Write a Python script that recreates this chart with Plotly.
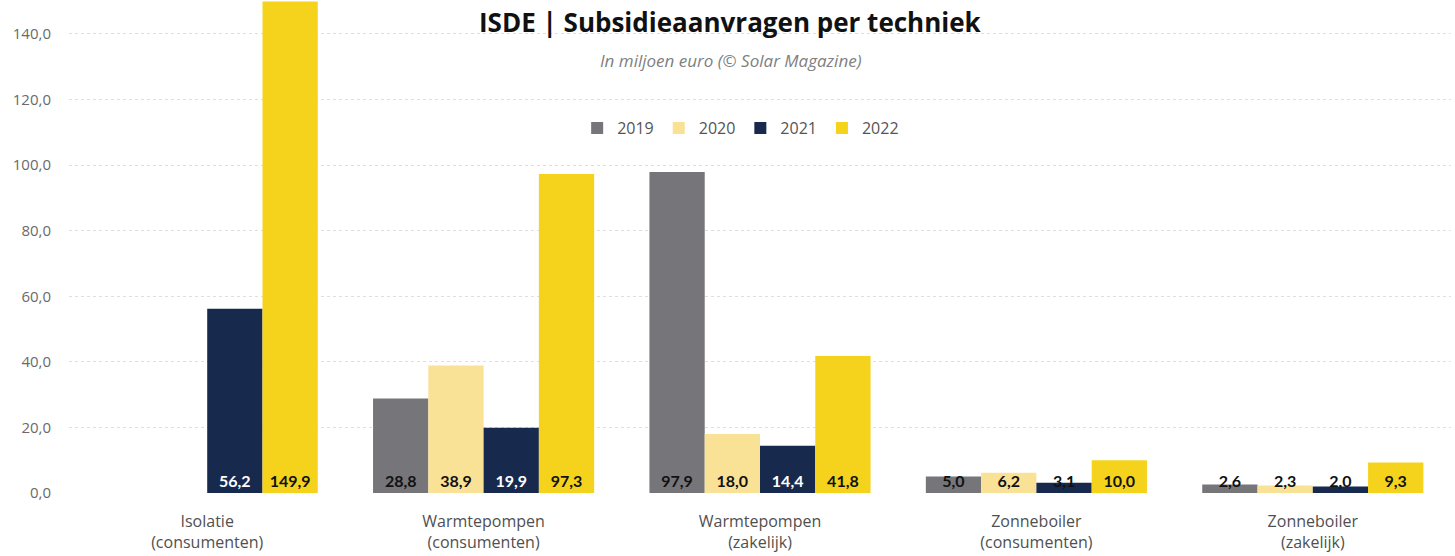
import plotly.graph_objects as go

categories = ["Isolatie<br>(consumenten)", "Warmtepompen<br>(consumenten)",
              "Warmtepompen<br>(zakelijk)", "Zonneboiler<br>(consumenten)",
              "Zonneboiler<br>(zakelijk)"]
years = ["2019", "2020", "2021", "2022"]
v2019 = [None, 28.8, 97.9, 5.0, 2.6]
v2020 = [None, 38.9, 18.0, 6.2, 2.3]
v2021 = [56.2, 19.9, 14.4, 3.1, 2.0]
v2022 = [149.9, 97.3, 41.8, 10.0, 9.3]
series = [v2019, v2020, v2021, v2022]
colors = ["#76757a", "#f9e196", "#172a4e", "#f5d31d"]

def fmt(v):
    return "" if v is None else f"{v:.1f}".replace(".", ",")

fig = go.Figure()
for name, vals, col in zip(years, series, colors):
    if name == "2021":
        tcol = ["#ffffff" if (v is not None and v > 10) else "#111111" for v in vals]
    else:
        tcol = ["#111111"] * len(vals)
    fig.add_trace(go.Bar(
        name=name, x=categories, y=vals, marker=dict(color=col, line=dict(width=0)),
        text=[fmt(v) for v in vals], textposition="inside", insidetextanchor="start",
        constraintext="none", textangle=0,
        textfont=dict(family="Lato", size=16, color=tcol, weight="bold"),
        hoverinfo="skip",
    ))

fig.update_layout(
    width=1455, height=556, barmode="group", bargap=0.2, bargroupgap=0,
    plot_bgcolor="white", paper_bgcolor="white",
    margin=dict(l=69, r=4, t=0, b=63),
    separators=",.",
    font=dict(family="Open Sans", color="#595959"),
    legend=dict(orientation="h", x=0.486, y=0.74, xanchor="center", yanchor="middle",
                font=dict(size=16, color="#555555"), itemwidth=30,
                traceorder="normal", bgcolor="rgba(0,0,0,0)"),
    yaxis=dict(range=[0, 150.35], dtick=20, tickformat=".1f", showgrid=True,
               gridcolor="#dedede", griddash="dot", gridwidth=1, zeroline=False,
               showline=False, ticks="", ticklabelstandoff=17,
               tickfont=dict(size=15, color="#6a6a6a")),
    xaxis=dict(showline=False, ticks="", ticklabelstandoff=17,
               tickfont=dict(size=16, color="#505050")),
    annotations=[
        dict(text="<b>ISDE | Subsidieaanvragen per techniek</b>", x=0.479, y=0.955,
             xref="paper", yref="paper", showarrow=False, xanchor="center", yanchor="middle",
             font=dict(family="Open Sans", size=26, color="#111111")),
        dict(text="<i>In miljoen euro (© Solar Magazine)</i>", x=0.479, y=0.878,
             xref="paper", yref="paper", showarrow=False, xanchor="center", yanchor="middle",
             font=dict(family="Open Sans", size=17, color="#808080")),
    ],
)

fig.write_html("out.html")
